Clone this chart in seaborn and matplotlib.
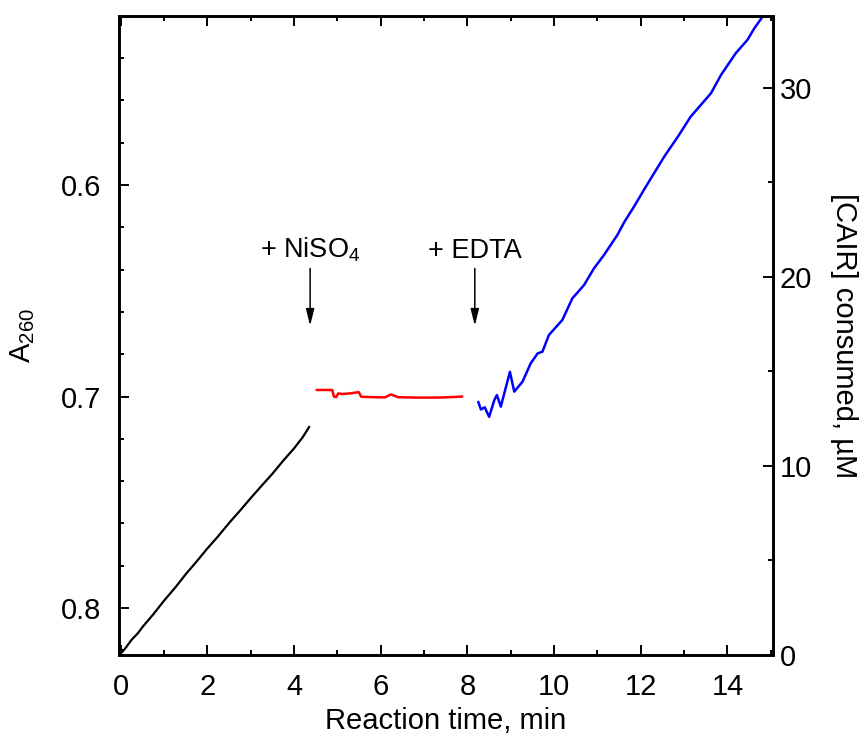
import matplotlib
matplotlib.use("Agg")
import matplotlib.pyplot as plt
from matplotlib.ticker import MultipleLocator
import seaborn as sns
import pandas as pd

# ---- data ----
black_t = [0.0, 0.1, 0.25, 0.4, 0.5, 0.75, 1.0, 1.25, 1.5, 1.75, 2.0, 2.25,
           2.5, 2.75, 3.0, 3.25, 3.5, 3.75, 4.0, 4.2, 4.35]
black_a = [0.8215, 0.8192, 0.8150, 0.8118, 0.8090, 0.8030, 0.7965, 0.7905,
           0.7840, 0.7780, 0.7718, 0.7660, 0.7598, 0.7540, 0.7480, 0.7422,
           0.7365, 0.7303, 0.7245, 0.7192, 0.7143]

red_t = [4.52, 4.88, 4.92, 4.97, 5.02, 5.10, 5.30, 5.49, 5.55, 5.80, 6.10,
         6.23, 6.40, 6.80, 7.30, 7.60, 7.88]
red_a = [0.6969, 0.6969, 0.7000, 0.7003, 0.6985, 0.6988, 0.6985, 0.6979,
         0.7001, 0.7003, 0.7004, 0.6990, 0.7003, 0.7005, 0.7005, 0.7003,
         0.7000]

blue_t = [8.25, 8.31, 8.40, 8.50, 8.62, 8.68, 8.77, 8.98, 9.08, 9.27, 9.46,
          9.62, 9.73, 9.88, 10.19, 10.42, 10.69, 10.92, 11.15, 11.46, 11.62,
          11.85, 12.08, 12.54, 12.88, 13.15, 13.62, 13.85, 14.19, 14.46,
          14.62, 14.81, 14.90]
blue_a = [0.7025, 0.7061, 0.7051, 0.7096, 0.7017, 0.6993, 0.7048, 0.6883,
          0.6977, 0.6930, 0.6843, 0.6796, 0.6788, 0.6709, 0.6638, 0.6536,
          0.6473, 0.6394, 0.6331, 0.6236, 0.6175, 0.6100, 0.6020, 0.5866,
          0.5764, 0.5677, 0.5566, 0.5480, 0.5377, 0.5314, 0.5259, 0.5204,
          0.5170]

x_ticks = [0, 2, 4, 6, 8, 10, 12, 14]
left_ticks = [0.6, 0.7, 0.8]
right_ticks = [0, 10, 20, 30]

annotations = ["+ NiSO$_4$", "+ EDTA"]
annot_t = [4.37, 8.17]

# ---- style ----
sns.set_style("ticks")
plt.rcParams['font.family'] = ['Liberation Sans', 'DejaVu Sans']
plt.rcParams['mathtext.fontset'] = 'custom'
plt.rcParams['mathtext.rm'] = 'Liberation Sans'
plt.rcParams['mathtext.it'] = 'Liberation Sans'
for k in ('text.color', 'axes.labelcolor', 'xtick.color', 'ytick.color'):
    plt.rcParams[k] = 'black'

FS = 21
FA = 19.5
fig = plt.figure(figsize=(8.66, 7.34), dpi=100)
ax = fig.add_axes([0.1374, 0.1076, 0.8926 - 0.1374, 0.9782 - 0.1076])

df_b = pd.DataFrame({"t": black_t, "a": black_a})
df_r = pd.DataFrame({"t": red_t, "a": red_a})
df_u = pd.DataFrame({"t": blue_t, "a": blue_a})
sns.lineplot(data=df_b, x="t", y="a", ax=ax, color="black", lw=1.6, sort=False)
sns.lineplot(data=df_r, x="t", y="a", ax=ax, color="#ff0000", lw=1.8, sort=False)
sns.lineplot(data=df_u, x="t", y="a", ax=ax, color="#0000ff", lw=1.8, sort=False)

ax.set_xlim(-0.04, 15.05)
ax.set_ylim(0.8222, 0.5201)
ax.set_xticks(x_ticks)
ax.set_yticks(left_ticks)
ax.set_yticklabels([f"{v:.1f}" for v in left_ticks])
ax.xaxis.set_minor_locator(MultipleLocator(1))
ax.yaxis.set_minor_locator(MultipleLocator(0.02))

ax2 = ax.twinx()
ax2.set_ylim(0, 33.8)
ax2.set_yticks(right_ticks)
ax2.yaxis.set_minor_locator(MultipleLocator(5))

for a in (ax, ax2):
    for s in a.spines.values():
        s.set_linewidth(1.9)
        s.set_color("black")
ax.tick_params(axis="x", which="both", direction="in", top=True, bottom=True,
               labelsize=FS, width=1.4, pad=13)
ax.tick_params(axis="x", which="major", length=7)
ax.tick_params(axis="x", which="minor", length=3.5)
ax.tick_params(axis="y", which="both", direction="in", left=True, right=False,
               labelsize=FS, width=1.4, pad=13)
ax.tick_params(axis="y", which="major", length=7)
ax.tick_params(axis="y", which="minor", length=3.5)
ax2.tick_params(axis="y", which="both", direction="in", right=True,
                labelsize=FS, width=1.4, pad=5)
ax2.tick_params(axis="y", which="major", length=7)
ax2.tick_params(axis="y", which="minor", length=3.5)

ax.set_xlabel("Reaction time, min", fontsize=FS, labelpad=4)
ax.set_ylabel("A$_{260}$", fontsize=FS, labelpad=17)
ax2.set_ylabel("[CAIR] consumed, µM", fontsize=FS, rotation=270, labelpad=33)

for txt, t in zip(annotations, annot_t):
    ax.annotate("", xy=(t, 0.6665), xytext=(t, 0.6395),
                arrowprops=dict(arrowstyle="-|>,head_length=1.0,head_width=0.25",
                                color="black", lw=1.1, shrinkA=0, shrinkB=0))
    ax.text(t, 0.6345, txt, ha="center", va="baseline", fontsize=FA)

fig.savefig("out.png", dpi=100)
